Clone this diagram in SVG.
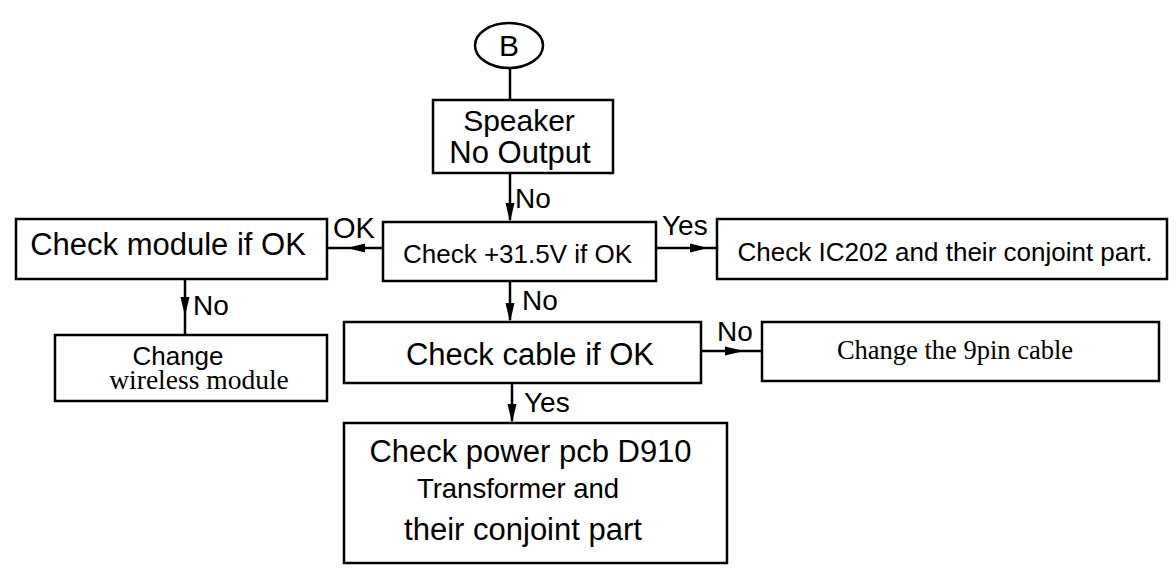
<svg xmlns="http://www.w3.org/2000/svg" width="1176" height="574" viewBox="0 0 1176 574">
<style>
.box{fill:#fff;stroke:#000;stroke-width:2.5}
.ln{stroke:#000;stroke-width:2.5;fill:none}
.ah{fill:#000}
text{font-family:"Liberation Sans",Arial,sans-serif;fill:#000}
.serif{font-family:"Liberation Serif","Times New Roman",serif}
</style>
<rect width="1176" height="574" fill="#fff"/>
<g id="connectors">
<line class="ln" x1="510" y1="68" x2="510" y2="100"/>
<line class="ln" x1="510" y1="173" x2="510" y2="220"/>
<polygon class="ah" points="510,222 505.5,203 514.5,203"/>
<line class="ln" x1="383" y1="248" x2="327" y2="248"/>
<polygon class="ah" points="347,248 365,243.5 365,252.5"/>
<line class="ln" x1="656" y1="248" x2="717" y2="248"/>
<polygon class="ah" points="708,248 690,243.5 690,252.5"/>
<line class="ln" x1="185" y1="279" x2="185" y2="335"/>
<polygon class="ah" points="185,316 180.5,297 189.5,297"/>
<line class="ln" x1="510" y1="281" x2="510" y2="320"/>
<polygon class="ah" points="510,322 505.5,303 514.5,303"/>
<line class="ln" x1="701" y1="351" x2="762" y2="351"/>
<polygon class="ah" points="744,351 725,346.5 725,355.5"/>
<line class="ln" x1="512" y1="383" x2="512" y2="421"/>
<polygon class="ah" points="512,423 507.5,404 516.5,404"/>
<text x="515" y="208" font-size="28">No</text>
<text x="333" y="238" font-size="29">OK</text>
<text x="662" y="235" font-size="28">Yes</text>
<text x="193" y="315" font-size="28">No</text>
<text x="522" y="310" font-size="28">No</text>
<text x="717" y="341" font-size="28">No</text>
<text x="524" y="412" font-size="28">Yes</text>
</g>
<g id="start">
<ellipse class="box" cx="509" cy="45.5" rx="34" ry="22.5"/>
<text x="509" y="56" font-size="30" text-anchor="middle">B</text>
</g>
<g id="speaker">
<rect class="box" x="433" y="100" width="180" height="73"/>
<text x="519" y="131" font-size="30" text-anchor="middle">Speaker</text>
<text x="520" y="163" font-size="31" text-anchor="middle">No Output</text>
</g>
<g id="check-voltage">
<rect class="box" x="383" y="222" width="273" height="59"/>
<text x="517.5" y="263" font-size="26" text-anchor="middle">Check +31.5V if OK</text>
</g>
<g id="check-module">
<rect class="box" x="16" y="219" width="311" height="60"/>
<text x="168" y="255" font-size="31" text-anchor="middle">Check module if OK</text>
</g>
<g id="check-ic202">
<rect class="box" x="717" y="219" width="450" height="60"/>
<text x="945" y="261" font-size="26" text-anchor="middle">Check IC202 and their conjoint part.</text>
</g>
<g id="change-module">
<rect class="box" x="55" y="335" width="272" height="66"/>
<text x="178" y="365" font-size="26" text-anchor="middle">Change</text>
<text class="serif" x="199" y="389" font-size="27.5" text-anchor="middle">wireless module</text>
</g>
<g id="check-cable">
<rect class="box" x="344" y="322" width="357" height="61"/>
<text x="530" y="365" font-size="31" text-anchor="middle">Check cable if OK</text>
</g>
<g id="change-cable">
<rect class="box" x="762" y="322" width="397" height="59"/>
<text class="serif" x="955" y="359" font-size="26.5" text-anchor="middle">Change the 9pin cable</text>
</g>
<g id="check-power">
<rect class="box" x="344" y="423" width="383" height="140"/>
<text x="530.5" y="462" font-size="31" text-anchor="middle">Check power pcb D910</text>
<text x="518" y="498" font-size="27.5" text-anchor="middle">Transformer and</text>
<text x="523" y="540" font-size="31" text-anchor="middle">their conjoint part</text>
</g>
</svg>
